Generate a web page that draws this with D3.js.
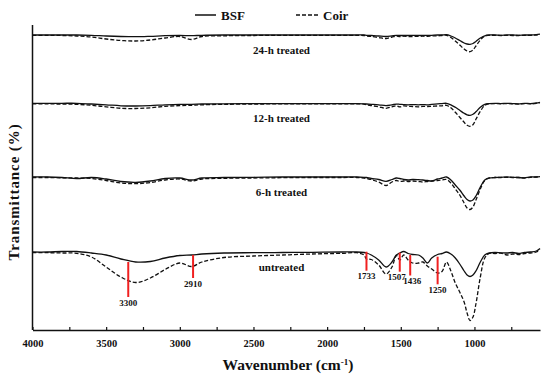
<!DOCTYPE html>
<html>
<head>
<meta charset="utf-8">
<script src="https://cdn.jsdelivr.net/npm/d3@7"></script>
<style>
  body { margin: 0; background: #fff; }
  text { font-family: "Liberation Serif", "Times New Roman", serif; font-weight: bold; fill: #111; }
</style>
</head>
<body>
<svg id="chart" width="550" height="379"></svg>
<script>
// wavenumber grid (cm-1) shared by every spectrum
var wavenumbers = [4000, 3900, 3800, 3700, 3600, 3500, 3400, 3300, 3200, 3100, 3000, 2920, 2850, 2700, 2500, 2300, 2100, 1900, 1800, 1750,
  1733, 1700, 1650, 1600, 1560, 1530, 1507, 1480, 1450, 1420, 1380, 1350, 1320, 1290, 1250, 1220, 1190, 1160, 1130, 1100,
  1070, 1050, 1030, 1010, 990, 960, 930, 900, 860, 820, 780, 740, 700, 660, 620, 580, 555];

// transmittance relative to each trace's own baseline (arbitrary units)
var bsfUntreated = [0, 0, 0.5, 0.5, -1, -3, -7, -10, -9.5, -6, -3.5, -3, -2, -1, -0.7, -0.5, -0.3, 0, 0, -0.5,
  -1, -3, -8, -15, -10, -3, -1, 0.5, -1.5, -2.5, -3, -6, -11, -6, -2.5, -1.5, 0, -2, -6, -12,
  -19, -23, -24.5, -23, -19, -10, -3, -1, -0.5, -0.8, -1, -0.5, -1.5, -0.5, 0, 1, 3.5];
var coirUntreated = [-0.7, -0.7, -1, -1.3, -5, -15, -25, -30.5, -26, -17.5, -11, -14.5, -10, -5.5, -4, -3, -2, -1.3, -0.7, -3,
  -7, -7.5, -13, -22, -15, -3.5, -8, -3, -8, -11, -11, -10, -14, -17, -21, -19.5, -10, -19, -31, -40,
  -50, -61, -68.5, -65, -52, -25, -6, -1.5, -1.5, -1.2, -3, -2, -2.5, -1.5, -1, 0, 2.5];
var bsf6h = [0, 0, -0.5, -1.5, -0.5, -2, -4.5, -5.3, -4, -1.5, -1, -3, -1, -0.5, -0.3, 0, 0, 0, 0, -0.3,
  -0.5, -1.5, -2.5, -4.3, -2.5, -1, -1.5, -2.5, -3, -2.5, -2.7, -3, -3.5, -4, -2, -1, 0, -3, -8, -13,
  -19, -22.5, -24, -23, -19, -10, -3, -1, -0.5, -0.3, 0, -0.3, -0.5, -1, 0, 0, 0.3];
var coir6h = [-0.5, -0.5, -0.8, -1, -1.5, -3.5, -6, -6.7, -5.5, -3, -2, -4, -2, -1.3, -1, -0.7, -0.5, -0.5, -0.5, -1,
  -1.5, -2.5, -5, -8.5, -5, -3.5, -4.5, -4, -4.5, -4, -4.5, -5, -4.5, -4, -3.5, -3, -2.5, -6, -12, -18,
  -26, -31, -32.5, -30, -23, -12, -3.5, -1, -0.5, -0.5, -0.3, -0.5, -0.5, -0.8, -0.3, 0, 0.3];
var bsf12h = [0, 0, 0, 0, -0.7, -1.5, -2.5, -2.7, -2.3, -1.5, -1, -1, -0.7, -0.5, -0.3, -0.3, -0.3, -0.3, -0.3, -0.5,
  -0.7, -1, -1.5, -2.3, -1.5, -0.8, -1, -1.3, -1.5, -1.3, -1.5, -1.3, -1.5, -1, -0.5, -0.3, 0, -1.5, -4, -7,
  -10, -11.5, -12, -11, -8.5, -4, -1, -0.3, 0, -0.3, 0, -0.3, -0.5, 0, -0.3, 0.3, 1];
var coir12h = [-0.5, -0.5, -0.8, -1, -2, -3.5, -5, -5.2, -4.5, -3, -2.3, -2, -1.5, -1, -0.8, -0.5, -0.5, -0.5, -0.5, -0.8,
  -1.5, -2.3, -3.5, -5, -3.5, -2.5, -3.5, -2.5, -3, -3.2, -3.5, -3, -3.2, -3, -2.7, -2.5, -2, -4.5, -9, -14,
  -19, -22, -23, -21.5, -16, -8, -2, -0.5, -0.3, -0.5, -0.3, -0.5, -0.8, -0.3, -0.5, 0, 0.7];
var bsf24h = [0, 0, 0, 0, -0.3, -1, -1.5, -1.7, -1.3, -0.7, -0.5, -0.7, -0.3, 0, 0, 0, 0, 0, 0, 0,
  -0.3, -0.5, -1, -1.5, -0.8, -0.3, -0.5, -0.5, -0.5, -0.3, -0.5, -0.3, -0.5, -0.3, 0, 0, 0.3, -1, -3, -5.5,
  -8, -9, -9.3, -8.5, -6.5, -3, -0.8, 0, 0, -0.3, 0, 0, -0.3, 0, 0, 0.3, 0.8];
var coir24h = [-0.3, -0.3, -0.5, -1, -2, -4, -5.5, -6, -5, -3, -1.5, -4.5, -1.5, -0.8, -0.5, -0.3, -0.3, -0.3, -0.3, -0.5,
  -1, -1.5, -2.5, -3.5, -2, -1, -1.5, -1.2, -1.5, -1.5, -1.3, -1.2, -1.3, -1, -0.8, -0.5, -0.3, -2.5, -6, -10,
  -14, -16, -16.7, -15, -11, -5, -1, -0.3, -0.3, -0.5, -0.3, -0.5, -0.5, -0.3, -0.3, 0, 0.5];

var panelNames = ["untreated", "6-h treated", "12-h treated", "24-h treated"];
var panelOffsets = [0, 75, 148.7, 217];
var bsfSeries = [bsfUntreated, bsf6h, bsf12h, bsf24h];
var coirSeries = [coirUntreated, coir6h, coir12h, coir24h];

// band assignments marked on the untreated spectra
var peakLabels = ["3300", "2910", "1733", "1507", "1436", "1250"];
var peakWn = [3350, 2910, 1733, 1507, 1436, 1250];
var peakTop = [-10, -3, 0.3, -0.7, -3, -4.7];
var peakBottom = [-45, -26, -18.7, -19.7, -23.5, -32.3];

var xTicks = d3.range(4000, 749, -250);

var padLeft = 32.5, padRight = 540, padTop = 25, padBottom = 330;
var svg = d3.select("#chart");

var x = d3.scaleLinear().domain([4000, 555]).range([padLeft, padRight]);
var y = d3.scaleLinear().domain([-78, 227]).range([padBottom, padTop]);

var line = d3.line()
  .x(function(d) { return x(d[0]); })
  .y(function(d) { return y(d[1]); })
  .curve(d3.curveCatmullRom.alpha(0.5));

function drawTrace(vals, off, dashed) {
  var pts = wavenumbers.map(function(w, i) { return [w, vals[i] + off]; });
  svg.append("path")
    .attr("d", line(pts))
    .attr("fill", "none")
    .attr("stroke", "#111")
    .attr("stroke-width", 1.3)
    .attr("stroke-dasharray", dashed ? "4,2" : null);
}

for (var p = 0; p < panelNames.length; p++) {
  drawTrace(coirSeries[p], panelOffsets[p], true);
  drawTrace(bsfSeries[p], panelOffsets[p], false);
  svg.append("text")
    .attr("x", x(2310))
    .attr("y", y(panelOffsets[p] - 15))
    .attr("dy", "0.35em")
    .attr("text-anchor", "middle")
    .attr("font-size", 11)
    .text(panelNames[p]);
}

// red peak markers
peakLabels.forEach(function(lab, i) {
  var px = x(peakWn[i]);
  svg.append("line")
    .attr("x1", px).attr("x2", px)
    .attr("y1", y(peakTop[i])).attr("y2", y(peakBottom[i]))
    .attr("stroke", "#f02020")
    .attr("stroke-width", 2);
  // the 1507 / 1436 labels sit very close, nudge them apart a little
  var dx = lab === "1507" ? -3 : (lab === "1436" ? 2 : 0);
  svg.append("text")
    .attr("x", px + dx)
    .attr("y", y(peakBottom[i]) + 2)
    .attr("dy", "0.75em")
    .attr("text-anchor", "middle")
    .attr("font-size", 9)
    .text(lab);
});

// axes
var xAxis = d3.axisBottom(x)
  .tickValues(xTicks)
  .tickSizeInner(-3)
  .tickSizeOuter(0)
  .tickPadding(10)
  .tickFormat(function(d) { return d % 500 === 0 ? d : ""; });

var gx = svg.append("g").attr("transform", "translate(0," + padBottom + ")").call(xAxis);
gx.select(".domain").attr("stroke", "#111").attr("stroke-width", 1.5);
gx.selectAll(".tick line").attr("stroke", "#111").attr("stroke-width", 1.2);
gx.selectAll(".tick text")
  .attr("font-family", "Liberation Serif, serif")
  .attr("font-weight", "bold")
  .attr("font-size", 10.5)
  .attr("fill", "#111");

svg.append("line")
  .attr("x1", padLeft).attr("x2", padLeft)
  .attr("y1", padTop).attr("y2", padBottom)
  .attr("stroke", "#111").attr("stroke-width", 1.5);

// axis titles
var xt = svg.append("text")
  .attr("x", 288).attr("y", 370)
  .attr("text-anchor", "middle")
  .attr("font-size", 15.5);
xt.append("tspan").text("Wavenumber (cm");
xt.append("tspan").attr("dy", -5).attr("font-size", 9).text("-1");
xt.append("tspan").attr("dy", 5).text(")");

svg.append("text")
  .attr("transform", "translate(19,192) rotate(-90)")
  .attr("text-anchor", "middle")
  .attr("font-size", 15)
  .attr("letter-spacing", 0.9)
  .text("Transmittance (%)");

// legend
svg.append("line").attr("x1", 195).attr("x2", 216).attr("y1", 15).attr("y2", 15)
  .attr("stroke", "#111").attr("stroke-width", 1.5);
svg.append("text").attr("x", 221).attr("y", 15).attr("dy", "0.35em").attr("font-size", 13).text("BSF");
svg.append("line").attr("x1", 296).attr("x2", 318).attr("y1", 15).attr("y2", 15)
  .attr("stroke", "#111").attr("stroke-width", 1.5).attr("stroke-dasharray", "4,2");
svg.append("text").attr("x", 323).attr("y", 15).attr("dy", "0.35em").attr("font-size", 13).text("Coir");
</script>
</body>
</html>
